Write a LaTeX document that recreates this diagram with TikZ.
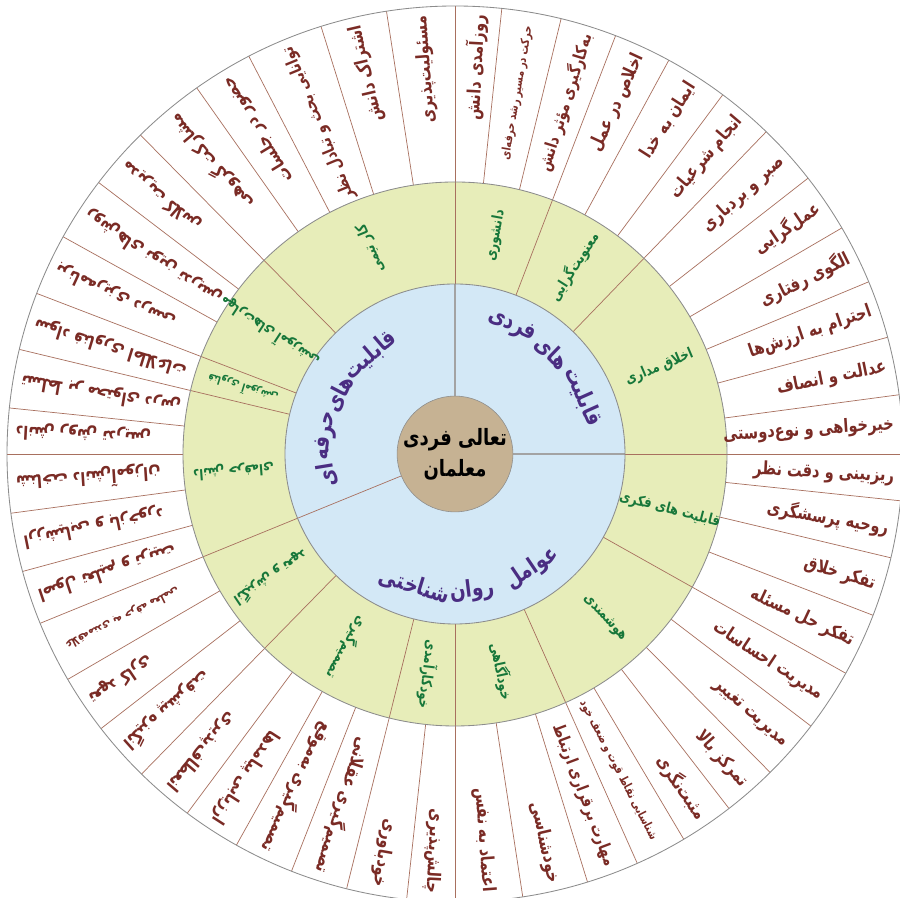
\documentclass[tikz,border=0pt]{standalone}
\usepackage{fontspec}
\newfontfamily\farsi[Script=Arabic,FakeStretch=0.8,BoldFont={DejaVu Sans Bold},
  BoldFeatures={FakeStretch=0.8}]{DejaVu Sans}
\TeXXeTstate=1
\definecolor{cRing} {HTML}{D3E8F6}
\definecolor{cBand} {HTML}{E7EDB9}
\definecolor{cCore} {HTML}{C6B293}
\definecolor{cRim}  {HTML}{8C8C8C}
\definecolor{cSep}  {HTML}{A8705F}
\definecolor{cItem} {HTML}{7A2B25}
\definecolor{cGroup}{HTML}{17773A}
\definecolor{cArea} {HTML}{4A2D82}
\newcommand{\fa}[1]{{\farsi\bfseries\beginR #1\endR}}
\tikzset{
  itemtext/.style={font=\fontsize{13}{15}\selectfont,text=cItem,
                   anchor=east,inner sep=0pt},
  longitem/.style={itemtext,font=\fontsize{12}{14}\selectfont},
  smallitem/.style={itemtext,font=\fontsize{8.5}{10}\selectfont},
  grouptext/.style={font=\fontsize{10.5}{12}\selectfont,text=cGroup,inner sep=0pt},
  areatext/.style={font=\fontsize{16.5}{19}\selectfont,text=cArea,inner sep=0pt},
  corenode/.style={circle,draw=cRim,fill=cCore,minimum size=2.6cm,align=center,
                   inner sep=0pt,font=\fontsize{16}{22}\selectfont},
  sepline/.style={cSep,line width=0.5pt},
  axisline/.style={cRim!80,line width=0.8pt},
  rimline/.style={cRim,line width=0.6pt},
}
\begin{document}
\begin{tikzpicture}[x=0.025cm,y=0.025cm]
  \useasboundingbox (0,0) rectangle (900,898);
  \begin{scope}[shift={(455,444)}]
    % rings
    \fill[white] (0,0) circle (448);
    \fill[cBand] (0,0) circle (272);
    \fill[cRing] (0,0) circle (170);
    % separators of the outer ring
    \foreach \a in {84,76.3,61.5,53.3,38,30.3,22.6,15.1,7.6,-6,-13.4,-21.1,
                    -37.4,-45.3,-52.3,-59.3,-72.8,-81.3,-96.2,-111.4,-119.2,-126.7,
                    -142.2,-149.8,195.2,187.6,180,174.1,151,142.7,125.2,117.4,107.4,98.8}
      \draw[sepline] (\a:272) -- (\a:448);
    % separators of the groups
    \foreach \a in {69,46,-29.3,-66,-90,-104,-134.4,166.5,159,134.6}
      \draw[sepline] (\a:170) -- (\a:448);
    \foreach \a in {90,0} {
      \draw[axisline] (\a:52) -- (\a:170);
      \draw[sepline] (\a:170) -- (\a:448);
    }
    \draw[sepline] (202.2:52) -- (202.2:448);
    \draw[rimline] (0,0) circle (448) (0,0) circle (272) (0,0) circle (170);
    \node[corenode] (core) at (0,0) {\fa{تعالی فردی}\\\fa{معلمان}};
    % areas
    \foreach \a/\t [count=\i] in {24/قابلیت,46/های,66/فردی}
      \node[areatext,rotate=\a-90] (ind\i) at (\a:140) {\fa{\t}};
    \foreach \a/\t [count=\i] in {130.5/قابلیت,152.5/های,172/حرفه,189.3/ای}
      \node[areatext,rotate=\a-90] (pro\i) at (\a:130) {\fa{\t}};
    \foreach \a/\t [count=\i] in {-56/عوامل,-83/روان,-107/شناختی}
      \node[areatext,rotate=\a+90] (psy\i) at (\a:138) {\fa{\t}};
    % groups
    \foreach \a/\t [count=\i] in {79.5/دانشوری,57.5/معنویت‌گرایی,23/اخلاق مداری,
        -14.6/قابلیت های فکری,-47.6/هوشمندی,-78/خودآگاهی,-97/خودکارآمدی,
        -119.2/تصمیم‌گیری,-146.1/انگیزش و تعهد,184.3/دانش حرفه‌ای,
        146.8/مهارت‌های آموزشی,112.3/کار تیمی}
      \node[grouptext,rotate=\a] (grp\i) at (\a:222) {\fa{\t}};
    \node[grouptext,rotate=162.7,font=\fontsize{8}{10}\selectfont]
      (grp13) at (162.7:222) {\fa{فناوری آموزشی}};
    % items
    \foreach \a/\t [count=\i] in {87/روزآمدی دانش,
        65.2/اخلاص در عمل,57.4/ایمان به خدا,49.7/انجام شرعیات,
        42/صبر و بردباری,34.2/عمل‌گرایی,26.5/الگوی رفتاری,18.9/احترام به ارزش‌ها,
        11.4/عدالت و انصاف,3.8/خیرخواهی و نوع‌دوستی,
        -3/ریزبینی و دقت نظر,-9.7/روحیه پرسشگری,-17.3/تفکر خلاق,-25.2/تفکر حل مسئله,
        -33.4/مدیریت احساسات,-41.4/مدیریت تغییر,-48.8/تمرکز بالا,-55.8/مثبت‌نگری,
        -77/خودشناسی,-85.7/اعتماد به نفس,
        -93.1/چالش‌پذیری,-100.1/خودباوری,
        -107.7/تصمیم‌گیری عقلانی,-115.3/تصمیم‌گیری به‌موقع,-123/ارزیابی پیامدها,
        -130.5/انعطاف‌پذیری,-138.3/انگیزه پیشرفت,-146/تعهد کاری,
        198.7/اصول تعلیم و تربیت,191.4/ارزشیابی و بازخورد,
        183.8/شناخت دانش‌آموزان,177/دانش روش تدریس,170.3/تسلط بر محتوای درس,
        162.8/سواد فناوری اطلاعات,155/برنامه‌ریزی درسی,146.9/روش‌های نوین تدریس,
        138.7/مدیریت کلاس,129.9/مشارکت گروهی,121.3/حضور در جلسات,
        103.1/اشتراک دانش,94.4/مسئولیت‌پذیری}
      \node[itemtext,rotate=\a] (itm\i) at (\a:440) {\fa{\t}};
    \foreach \a/\t [count=\i] in {72.6/به‌کارگیری مؤثر دانش,
        -69.4/مهارت برقراری ارتباط,112.4/توانایی بحث و تبادل نظر}
      \node[longitem,rotate=\a] (lng\i) at (\a:440) {\fa{\t}};
    \foreach \a/\t [count=\i] in {80.2/حرکت در مسیر رشد حرفه‌ای,
        -62.7/شناسایی نقاط قوت و ضعف خود,-153.8/علاقه‌مندی به حرفه معلمی}
      \node[smallitem,rotate=\a] (sml\i) at (\a:434) {\fa{\t}};
  \end{scope}
\end{tikzpicture}
\end{document}
